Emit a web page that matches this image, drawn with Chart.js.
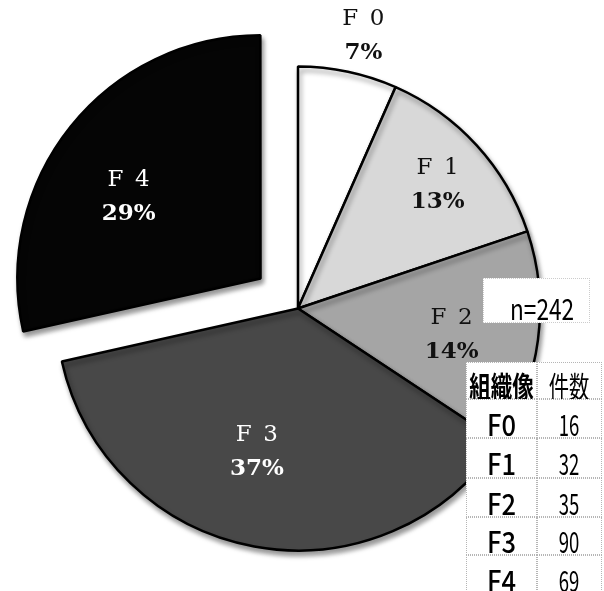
<!DOCTYPE html>
<html>
<head>
<meta charset="utf-8">
<script src="https://cdn.jsdelivr.net/npm/chart.js@4.4.0/dist/chart.umd.min.js"></script>
<style>
  html, body { margin: 0; padding: 0; background: #fff; }
  #wrap { position: relative; width: 604px; height: 591px; overflow: hidden; }
  #pie { position: absolute; left: 0; top: 0; }
  .cell {
    position: absolute; box-sizing: border-box;
    display: flex; justify-content: center; align-items: center;
    font-family: "Noto Sans CJK JP"; font-size: 29px; color: #000;
    background: #fff; white-space: nowrap;
  }
  .cell span { display: inline-block; flex: none; }
</style>
</head>
<body>
<div id="wrap">
  <canvas id="pie" width="604" height="591"></canvas>
  <div id="table"></div>
</div>
<script>
const categories = ["F0", "F1", "F2", "F3", "F4"];
const counts = [16, 32, 35, 90, 69];
const tableHeaders = ["組織像", "件数"];

const sliceColors = ["#ffffff", "#d8d8d8", "#a5a5a5", "#484848", "#050505"];
const textColors = ["#111", "#111", "#111", "#fff", "#fff"];
const explode = [0, 0, 0, 0, 192];
// where each label sits, as a fraction of the radius plus a small nudge
const labelRadius = [1.15, 0.77, 0.64, 0.62, 0.64];
const labelNudge = [[8, 0], [2, 2], [0, 6], [-14, -4], [-11, 15]];

const total = counts.reduce((a, b) => a + b, 0);

const sliceShadow = {
  id: "sliceShadow",
  beforeDatasetsDraw(chart) {
    const c = chart.ctx;
    c.save();
    c.shadowColor = "rgba(0,0,0,0.4)";
    c.shadowBlur = 5;
    c.shadowOffsetX = 2;
    c.shadowOffsetY = 4;
  },
  afterDatasetsDraw(chart) {
    chart.ctx.restore();
  }
};

const sliceLabels = {
  id: "sliceLabels",
  afterDatasetsDraw(chart) {
    const c = chart.ctx;
    const meta = chart.getDatasetMeta(0);
    meta.data.forEach((arc, i) => {
      const p = arc.getProps(["x", "y", "startAngle", "endAngle", "outerRadius"], true);
      const mid = (p.startAngle + p.endAngle) / 2;
      const r = p.outerRadius * labelRadius[i] + explode[i] / 4;
      const cx = p.x + Math.cos(mid) * r + labelNudge[i][0];
      const cy = p.y + Math.sin(mid) * r + labelNudge[i][1];
      const pct = Math.round(counts[i] / total * 100) + "%";
      c.save();
      c.textAlign = "center";
      c.textBaseline = "middle";
      c.fillStyle = textColors[i];
      c.font = '23px "DejaVu Serif"';
      c.fillText(categories[i].replace("F", "F\u2002"), cx, cy - 17);
      c.font = 'bold 23px "DejaVu Serif"';
      c.fillText(pct, cx, cy + 17);
      c.restore();
    });
  }
};

new Chart(document.getElementById("pie"), {
  type: "pie",
  data: {
    labels: categories,
    datasets: [{
      data: counts,
      backgroundColor: sliceColors,
      borderColor: "#000",
      borderWidth: 2.5,
      offset: explode
    }]
  },
  options: {
    responsive: false,
    animation: false,
    events: [],
    radius: 242,
    layout: { padding: { left: 0, right: 8, top: 26, bottom: 0 } },
    plugins: {
      legend: { display: false },
      tooltip: { enabled: false }
    }
  },
  plugins: [sliceShadow, sliceLabels]
});

// count box and table on the right
const wrap = document.getElementById("table");

function cell(x, y, w, h, text, opts) {
  const d = document.createElement("div");
  d.className = "cell";
  d.style.left = x + "px";
  d.style.top = y + "px";
  d.style.width = w + "px";
  d.style.height = h + "px";
  if (opts.border) d.style.border = opts.border;
  const s = document.createElement("span");
  s.textContent = text;
  s.style.fontWeight = opts.weight || "normal";
  if (opts.size) s.style.fontSize = opts.size + "px";
  s.style.transform = "translate(" + (opts.dx || 0) + "px," + (opts.dy || 0) + "px) scaleX(" + opts.sx + ")";
  d.appendChild(s);
  wrap.appendChild(d);
}

cell(483, 278, 107, 45, "n=" + total, { sx: 0.78, size: 29, dx: 6, dy: 6, border: "1px dotted #ccc" });

const colX = [466, 537, 602];
const rowY = [362, 399, 438, 478, 517, 555, 594];
const line = "1px dotted #b5b5b5";

for (let r = 0; r < rowY.length - 1; r++) {
  const y = rowY[r], h = rowY[r + 1] - rowY[r];
  const left = r === 0 ? tableHeaders[0] : categories[r - 1];
  const right = r === 0 ? tableHeaders[1] : String(counts[r - 1]);
  cell(colX[0], y, colX[1] - colX[0], h, left,
    { sx: r === 0 ? 0.74 : 0.88, weight: r === 0 ? "bold" : "500", dy: 4, border: line });
  cell(colX[1], y, colX[2] - colX[1], h, right,
    { sx: r === 0 ? 0.7 : 0.64, dy: 4, border: line });
}
</script>
</body>
</html>
